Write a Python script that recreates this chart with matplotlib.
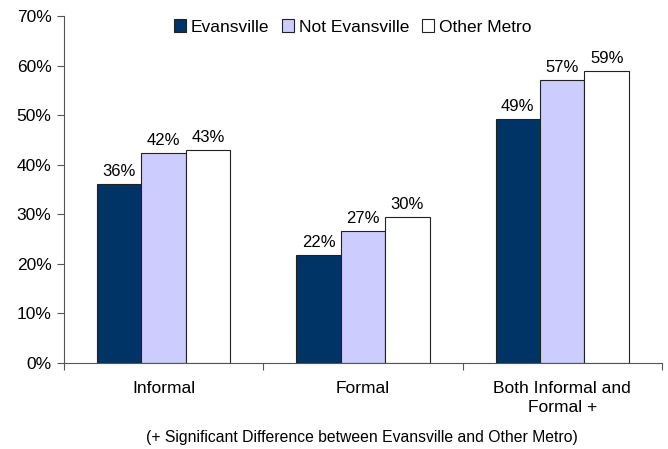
import matplotlib
matplotlib.use("Agg")
import matplotlib.pyplot as plt
import numpy as np

plt.rcParams['font.family'] = ['Liberation Sans', 'DejaVu Sans']

categories = ["Informal", "Formal", "Both Informal and\nFormal +"]
series = ["Evansville", "Not Evansville", "Other Metro"]
evansville = [36.1, 21.8, 49.2]
not_evansville = [42.3, 26.6, 57.1]
other_metro = [43.0, 29.5, 59.0]
labels = [["36%", "22%", "49%"], ["42%", "27%", "57%"], ["43%", "30%", "59%"]]
colors = ["#003366", "#CCCCFF", "#FFFFFF"]
footnote = "(+ Significant Difference between Evansville and Other Metro)"

fs = 12.5
fig = plt.figure(figsize=(6.68, 4.49), dpi=100)
ax = fig.add_axes([0.0958, 0.1915, 0.895, 0.7729])

x = np.arange(len(categories))
w = 0.223
data = [evansville, not_evansville, other_metro]
handles = []
for i, (vals, c, name) in enumerate(zip(data, colors, series)):
    pos = x + (i - 1) * w
    b = ax.bar(pos, vals, width=w, color=c, edgecolor="#222222", linewidth=0.8, label=name)
    handles.append(b)
    for p, v, t in zip(pos, vals, labels[i]):
        ax.text(p, v + 1.0, t, ha="center", va="bottom", fontsize=12)

ax.set_xlim(-0.5, len(categories) - 0.5)
ax.set_ylim(0, 70)
ax.set_yticks(np.arange(0, 71, 10))
ax.set_yticklabels([f"{v}%" for v in range(0, 71, 10)], fontsize=fs)
ax.set_xticks(np.arange(-0.5, len(categories), 1.0))
ax.set_xticklabels([])
ax.set_xticks(x, minor=True)
ax.set_xticklabels(categories, minor=True, fontsize=fs, linespacing=1.3)
ax.tick_params(axis="x", which="minor", length=0, pad=13)
ax.tick_params(axis="x", which="major", length=5, direction="out", color="#555555")
ax.tick_params(axis="y", length=5, direction="out", color="#555555", pad=4)
for s in ["top", "right"]:
    ax.spines[s].set_visible(False)
for s in ["left", "bottom"]:
    ax.spines[s].set_color("#555555")

ax.legend(handles=handles, loc="upper center", bbox_to_anchor=(0.483, 1.035), ncol=3,
          frameon=False, fontsize=fs, handlelength=0.7, handleheight=0.7,
          handletextpad=0.25, columnspacing=0.75)

fig.text(0.542, 0.008, footnote, ha="center", va="bottom", fontsize=11.3)

fig.savefig("out.png", dpi=100)
